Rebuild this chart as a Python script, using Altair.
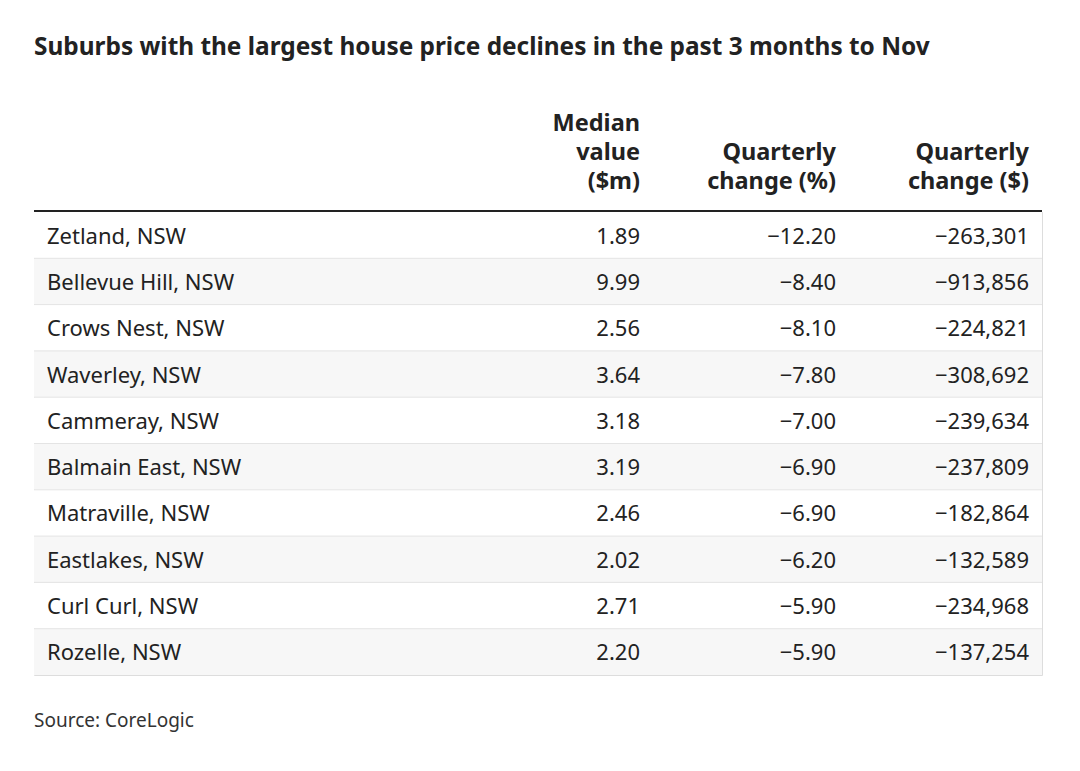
import altair as alt
import pandas as pd

suburbs = ["Zetland, NSW", "Bellevue Hill, NSW", "Crows Nest, NSW", "Waverley, NSW",
           "Cammeray, NSW", "Balmain East, NSW", "Matraville, NSW", "Eastlakes, NSW",
           "Curl Curl, NSW", "Rozelle, NSW"]
median_value = [1.89, 9.99, 2.56, 3.64, 3.18, 3.19, 2.46, 2.02, 2.71, 2.20]
quarterly_pct = [-12.20, -8.40, -8.10, -7.80, -7.00, -6.90, -6.90, -6.20, -5.90, -5.90]
quarterly_dollar = [-263301, -913856, -224821, -308692, -239634, -237809, -182864,
                    -132589, -234968, -137254]

title_text = "Suburbs with the largest house price declines in the past 3 months to Nov"
source_text = "Source: CoreLogic"
header_median = ["Median", "value", "($m)"]
header_pct = ["Quarterly", "change (%)"]
header_dollar = ["Quarterly", "change ($)"]

FONT = "Noto Sans"
W, H = 1008, 463
COL_MED, COL_PCT, COL_DOL = 606, 802, 995


def fmt_num(v, dec):
    s = f"{abs(v):,.{dec}f}"
    return ("\u2212" + s) if v < 0 else s


df = pd.DataFrame({
    "suburb": suburbs,
    "idx": list(range(len(suburbs))),
    "median": [f"{v:.2f}" for v in median_value],
    "pct": [fmt_num(v, 2) for v in quarterly_pct],
    "dollar": [fmt_num(v, 0) for v in quarterly_dollar],
})
n = len(suburbs)

yscale = alt.Scale(domain=[0, n], reverse=True, nice=False, zero=False)

base = alt.Chart(df).transform_calculate(
    y0="datum.idx", y1="datum.idx + 1", yc="datum.idx + 0.5",
    odd="datum.idx % 2"
)

bg = base.mark_rect().encode(
    x=alt.value(0), x2=alt.value(W),
    y=alt.Y("y0:Q", scale=yscale, axis=None),
    y2="y1:Q",
    fill=alt.condition("datum.odd == 1", alt.value("#f7f7f7"), alt.value("#ffffff")),
)

sep = base.transform_filter("datum.idx > 0").mark_rule(color="#e4e4e4", strokeWidth=1).encode(
    x=alt.value(0), x2=alt.value(W),
    y=alt.Y("y0:Q", scale=yscale, axis=None),
)

header_rule = alt.Chart(pd.DataFrame({"v": [0]})).mark_rule(
    color="#222222", strokeWidth=2, yOffset=-1
).encode(x=alt.value(0), x2=alt.value(W), y=alt.Y("v:Q", scale=yscale, axis=None))

txt_kw = dict(font=FONT, fontSize=22, color="#222222", baseline="middle", dy=1.5)

name_t = base.mark_text(align="left", **txt_kw).encode(
    x=alt.value(13), y=alt.Y("yc:Q", scale=yscale, axis=None), text="suburb:N")
med_t = base.mark_text(align="right", **txt_kw).encode(
    x=alt.value(COL_MED), y=alt.Y("yc:Q", scale=yscale, axis=None), text="median:N")
pct_t = base.mark_text(align="right", **txt_kw).encode(
    x=alt.value(COL_PCT), y=alt.Y("yc:Q", scale=yscale, axis=None), text="pct:N")
dol_t = base.mark_text(align="right", **txt_kw).encode(
    x=alt.value(COL_DOL), y=alt.Y("yc:Q", scale=yscale, axis=None), text="dollar:N")

hdr_kw = dict(font=FONT, fontSize=23.5, fontWeight="bold", color="#222222",
              baseline="alphabetic", align="right", lineHeight=29)
one = pd.DataFrame({"a": [0]})
h1 = alt.Chart(one).mark_text(**hdr_kw).encode(
    x=alt.value(COL_MED), y=alt.value(-81), text=alt.value(header_median))
h2 = alt.Chart(one).mark_text(**hdr_kw).encode(
    x=alt.value(COL_PCT), y=alt.value(-52), text=alt.value(header_pct))
h3 = alt.Chart(one).mark_text(**hdr_kw).encode(
    x=alt.value(COL_DOL), y=alt.value(-52), text=alt.value(header_dollar))

title_t = alt.Chart(one).mark_text(font=FONT, fontSize=24.4, fontWeight="bold", color="#222222",
                                   align="left", baseline="alphabetic").encode(
    x=alt.value(0), y=alt.value(-157), text=alt.value(title_text))

src = alt.Chart(one).mark_text(font=FONT, fontSize=19, color="#333333",
                               align="left", baseline="alphabetic").encode(
    x=alt.value(0), y=alt.value(515), text=alt.value(source_text))

chart = alt.layer(bg, sep, header_rule, name_t, med_t, pct_t, dol_t, h1, h2, h3, title_t, src).properties(
    width=W, height=H,
    autosize=alt.AutoSizeParams(type="none"),
    padding={"left": 26, "top": 204, "right": 30, "bottom": 88},
).configure_view(stroke=None).configure(background="#ffffff")

chart.save("out.html", embed_options={"renderer": "svg", "actions": False})
